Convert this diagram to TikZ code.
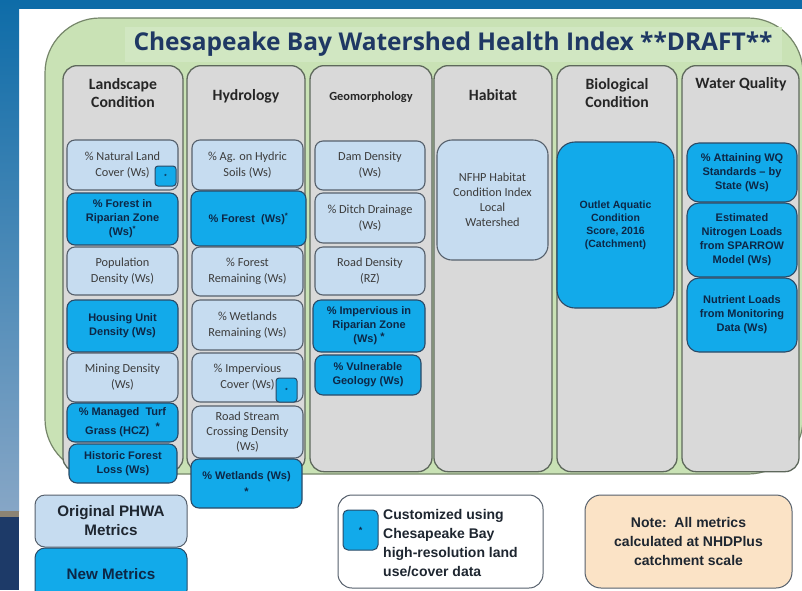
\documentclass[tikz,border=0pt]{standalone}
\usepackage{fontspec}
\setmainfont{Carlito}
\newfontfamily\arialf{Liberation Sans}
\newfontfamily\titlef{Open Sans}
\definecolor{bandblue}{HTML}{0E6CA8}
\definecolor{bandlight}{HTML}{86A6C6}
\definecolor{navybg}{HTML}{1D3A68}
\definecolor{brownline}{HTML}{8C8474}
\definecolor{greenfill}{HTML}{C9E2B5}
\definecolor{greenline}{HTML}{76866A}
\definecolor{titlegreen}{HTML}{D1E7C2}
\definecolor{panelfill}{HTML}{D9D9D9}
\definecolor{panelline}{HTML}{5E685C}
\definecolor{lightfill}{HTML}{C6DCF0}
\definecolor{lightline}{HTML}{56606C}
\definecolor{bluefill}{HTML}{12AAEA}
\definecolor{blueline}{HTML}{2B4A66}
\definecolor{navytext}{HTML}{0D2746}
\definecolor{greytext}{HTML}{3C3C3C}
\definecolor{headtext}{HTML}{262626}
\definecolor{titlenavy}{HTML}{1F3864}
\definecolor{peach}{HTML}{FBE3C6}
\definecolor{legtext}{HTML}{1E2630}
\tikzset{
  wh/.style 2 args={minimum width=#1pt, minimum height=#2pt},
  panel/.style={draw=panelline, line width=1.3pt, fill=panelfill, rounded corners=14pt, anchor=north, inner sep=0pt},
  head/.style={align=center, text=headtext, font=\bfseries\fontsize{15.7}{18}\selectfont, inner sep=0pt},
  lbox/.style={draw=lightline, line width=1.1pt, fill=lightfill, rounded corners=8pt, align=center, text=greytext, font=\fontsize{12.3}{16}\selectfont, inner sep=1pt},
  bbox/.style={draw=blueline, line width=1.1pt, fill=bluefill, rounded corners=8pt, align=center, text=navytext, font=\arialf\bfseries\fontsize{11}{14}\selectfont, inner sep=1pt},
  star/.style={draw=blueline, line width=1pt, fill=bluefill, rounded corners=3pt, text=navytext, font=\arialf\bfseries\fontsize{6}{6}\selectfont, inner sep=0pt},
  legend/.style={align=center, text=legtext, font=\arialf\bfseries\fontsize{14}{19}\selectfont, inner sep=1pt}
}
\begin{document}
\begin{tikzpicture}[x=1pt,y=-1pt]
\useasboundingbox (0,0) rectangle (802,590);
\clip (0,0) rectangle (802,590);
% background
\fill[white] (0,0) rectangle (802,590);
\fill[bandblue] (0,0) rectangle (802,9);
\shade[top color=bandblue, bottom color=bandlight] (0,0) rectangle (19,511);
\fill[brownline] (0,511) rectangle (19,517);
\fill[navybg] (0,517) rectangle (19,590);
% outer green frame
\draw[draw=greenline, fill=greenfill, line width=1.2pt, rounded corners=55pt] (45,18) rectangle (803,474);
\fill[titlegreen] (125,27) rectangle (782,62);
\node[text=titlenavy, font=\titlef\bfseries\fontsize{24.5}{30}\selectfont, inner sep=0pt] (title) at (453,44) {Chesapeake Bay Watershed Health Index **DRAFT**};
% panels
\node[panel, wh={120}{406}] (p1) at (123,65) {};
\node[panel, wh={118}{406}] (p2) at (246,65) {};
\node[panel, wh={122}{406}] (p3) at (371,65) {};
\node[panel, wh={118}{406}] (p4) at (493,65) {};
\node[panel, wh={120}{406}] (p5) at (617,65) {};
\node[panel, wh={117}{406}] (p6) at (740.5,65) {};
% headers
\node[head] (h1) at (123,93) {Landscape\\Condition};
\node[head] (h2) at (246,96) {Hydrology};
\node[head, font=\bfseries\fontsize{12.4}{14}\selectfont] (h3) at (371,97) {Geomorphology};
\node[head] (h4) at (493,95) {Habitat};
\node[head] (h5) at (617,93) {Biological\\Condition};
\node[head] (h6) at (741,84) {Water Quality};
% column 1
\node[lbox, wh={111}{50}] (nat) at (122.5,165) {\% Natural Land\\Cover (Ws)};
\node[star, wh={21}{20}] (nats) at (165.5,176) {*};
\node[bbox, wh={111}{52}] (rip) at (122.5,219) {\% Forest in\\Riparian Zone\\(Ws)\textsuperscript{*}};
\node[lbox, wh={111}{48}] (pop) at (122.5,271) {Population\\Density (Ws)};
\node[bbox, wh={111}{52}] (hou) at (122.5,326) {Housing Unit\\Density (Ws)};
\node[lbox, wh={111}{49}] (mine) at (122.5,377.5) {Mining Density\\(Ws)};
\node[bbox, wh={111}{39}, font=\arialf\bfseries\fontsize{11}{19}\selectfont] (turf) at (122.5,422.5) {\% Managed\ \ Turf\\Grass (HCZ)\ \ \raisebox{4pt}{*}};
\node[bbox, wh={108}{39}] (hist) at (123,463.5) {Historic Forest\\Loss (Ws)};
% column 2
\node[lbox, wh={111}{50}] (ag) at (247.5,165) {\% Ag. on Hydric\\Soils (Ws)};
\node[bbox, wh={115}{55}] (fore) at (248.5,218.5) {\% Forest\ \ (Ws)\textsuperscript{*}};
\node[lbox, wh={111}{49}] (forrem) at (247.5,271.5) {\% Forest\\Remaining (Ws)};
\node[lbox, wh={111}{50}] (wetrem) at (247.5,325) {\% Wetlands\\Remaining (Ws)};
\node[lbox, wh={111}{49}] (imp) at (247.5,377.5) {\% Impervious\\Cover (Ws)};
\node[star, wh={21}{24}] (imps) at (286.5,390) {*};
\node[lbox, wh={111}{52}, font=\fontsize{12.3}{15}\selectfont] (road) at (247.5,432) {Road Stream\\Crossing Density\\(Ws)};
\node[bbox, wh={111}{49}, font=\arialf\bfseries\fontsize{11}{16}\selectfont] (wet) at (246.5,483.5) {\% Wetlands (Ws)\\*};
% column 3
\node[lbox, wh={110}{49}] (dam) at (370,165.5) {Dam Density\\(Ws)};
\node[lbox, wh={110}{50}] (ditch) at (370,218) {\% Ditch Drainage\\(Ws)};
\node[lbox, wh={110}{48}] (roadd) at (370,271) {Road Density\\(RZ)};
\node[bbox, wh={112}{52}] (impr) at (369,326) {\% Impervious in\\Riparian Zone\\(Ws) \raisebox{2pt}{*}};
\node[bbox, wh={106}{40}] (geo) at (368,375) {\% Vulnerable\\Geology (Ws)};
% column 4
\node[lbox, wh={111}{120}, rounded corners=15pt, font=\fontsize{12.3}{15}\selectfont] (nfhp) at (492.5,200) {NFHP Habitat\\Condition Index\\Local\\Watershed};
% column 5
\node[bbox, wh={117}{166}, rounded corners=18pt, font=\arialf\bfseries\fontsize{10.5}{13}\selectfont] (outlet) at (615.5,225) {Outlet Aquatic\\Condition\\Score, 2016\\(Catchment)};
% column 6
\node[bbox, wh={110}{59}, rounded corners=12pt] (att) at (742,172.5) {\% Attaining WQ\\Standards \textendash{} by\\State (Ws)};
\node[bbox, wh={110}{74}, rounded corners=12pt] (nit) at (742,240) {Estimated\\Nitrogen Loads\\from SPARROW\\Model (Ws)};
\node[bbox, wh={110}{74}, rounded corners=12pt] (nut) at (742,315) {Nutrient Loads\\from Monitoring\\Data (Ws)};
% legend
\node[draw=lightline, line width=1pt, fill=lightfill, rounded corners=10pt, wh={152}{52}, legend, font=\arialf\bfseries\fontsize{15.2}{19}\selectfont] (orig) at (111,521) {Original PHWA\\Metrics};
\node[draw=blueline, line width=1pt, fill=bluefill, rounded corners=10pt, wh={152}{52}, legend, text=navytext, font=\arialf\bfseries\fontsize{15.2}{19}\selectfont] (newm) at (111,574) {New Metrics};
\node[draw=lightline, line width=1pt, fill=white, rounded corners=14pt, wh={205}{93}] (cust) at (440.5,541.5) {};
\node[star, wh={35}{40}, rounded corners=5pt, font=\arialf\bfseries\fontsize{9}{9}\selectfont] (custs) at (360.5,530) {*};
\node[legend, align=left, anchor=west] (custt) at (382,543) {Customized using\\Chesapeake Bay\\high-resolution land\\use/cover data};
\node[draw=lightline, line width=1pt, fill=peach, rounded corners=16pt, wh={207}{93}, legend] (note) at (688.5,541.5) {Note:\ \ All metrics\\calculated at NHDPlus\\catchment scale};
\end{tikzpicture}
\end{document}
